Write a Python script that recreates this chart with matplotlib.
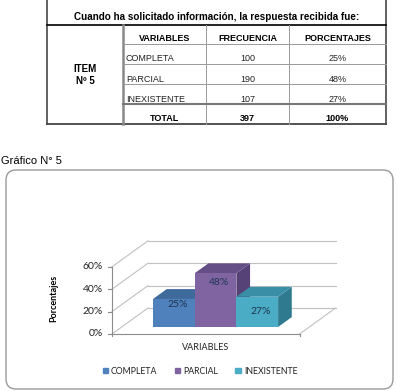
import matplotlib.pyplot as plt
from matplotlib.patches import Polygon, FancyBboxPatch, Patch

# datos de la tabla
titulo = 'Cuando ha solicitado información, la respuesta recibida fue:'
encabezados = ['VARIABLES', 'FRECUENCIA', 'PORCENTAJES']
variables = ['COMPLETA', 'PARCIAL', 'INEXISTENTE']
frecuencia = [100, 190, 107]
porcentajes = [25, 48, 27]
total_frec = 397
total_pct = 100

# datos del grafico
ticks = [0, 20, 40, 60]
colores = ['#4F81BD', '#8064A2', '#4BACC6']
tapas = ['#3F6A9C', '#654E86', '#3A8EA6']
lados = ['#34598A', '#574277', '#307A8F']
ajuste_etiqueta = [-4.5, -8, -13.5]

fig = plt.figure(figsize=(3.97, 3.91), dpi=100)

# ---- capa en pixeles: tabla y recuadro
ax0 = fig.add_axes([0, 0, 1, 1])
ax0.set_xlim(0, 397)
ax0.set_ylim(391, 0)
ax0.axis('off')

arial = 'Liberation Sans'
cols = [47, 123, 206, 289, 386]
filas = [24.5, 44, 63.5, 84, 104, 124]

ax0.plot([47, 47], [-2, 124], color='#555555', lw=1.3)
ax0.plot([386, 386], [-2, 124], color='#555555', lw=1.3)
ax0.plot([47, 386], [124, 124], color='#444444', lw=1.3)
ax0.plot([47, 386], [24.5, 24.5], color='#111111', lw=1.3)
ax0.plot([123, 123], [24.5, 124], color='#888888', lw=1.8)
for xc in cols[2:4]:
    ax0.plot([xc, xc], [24.5, 124], color='#999999', lw=0.7)
for yf in filas[1:4]:
    ax0.plot([123, 386], [yf, yf], color='#999999', lw=0.7)
ax0.plot([123, 386], [104, 104], color='#777777', lw=1.5)

ax0.text(216.5, 17.5, titulo, ha='center', va='center', fontsize=7.1, weight='bold', family=arial)
for j, h in enumerate(encabezados):
    ax0.text((cols[j + 1] + cols[j + 2]) / 2, filas[1] - 5.5, h, ha='center', va='center',
             fontsize=6.5, weight='bold', family=arial)
for i, v in enumerate(variables):
    yy = filas[i + 2] - 5
    ax0.text(126, yy, v, ha='left', va='center', fontsize=6.5, family=arial, color='#222222')
    ax0.text(247.5, yy, str(frecuencia[i]), ha='center', va='center', fontsize=6.5, family=arial, color='#222222')
    ax0.text(337.5, yy, f'{porcentajes[i]}%', ha='center', va='center', fontsize=6.5, family=arial, color='#222222')
ax0.text(164.5, filas[5] - 5.5, 'TOTAL', ha='center', va='center', fontsize=6.5, weight='bold', family=arial)
ax0.text(247.5, filas[5] - 5.5, str(total_frec), ha='center', va='center', fontsize=6.5, weight='bold', family=arial)
ax0.text(337.5, filas[5] - 5.5, f'{total_pct}%', ha='center', va='center', fontsize=6.5, weight='bold', family=arial)
ax0.text(85, 69, 'ITEM', ha='center', va='center', fontsize=7, weight='bold', family=arial)
ax0.text(85, 81, 'Nº 5', ha='center', va='center', fontsize=7, weight='bold', family=arial)

ax0.text(1, 161, 'Gráfico N° 5', ha='left', va='center', fontsize=8, family=arial)
ax0.add_patch(FancyBboxPatch((6, 170), 387, 219, boxstyle='round,pad=0,rounding_size=10',
                             fc='white', ec='#9A9A9A', lw=1))

# ---- grafico de barras en "3D"
ax = fig.add_axes([0, 0, 1, 1])
ax.patch.set_alpha(0)
ax.axis('off')
px0, py0, sx, sy = 112, 334, 41.7, 1.12
ax.set_xlim(-px0 / sx, (397 - px0) / sx)
ax.set_ylim((py0 - 391) / sy, py0 / sy)

DX, DY = 36 / sx, 26 / sy
W = 4.5
d0, d1 = 0.27, 0.65


def P(x, v, d):
    return (x + d * DX, v + d * DY)


gris = '#C0C0C0'
for t in ticks:
    a, b = P(0, t, 1), P(W, t, 1)
    ax.plot([a[0], b[0]], [a[1], b[1]], color=gris, lw=0.8, zorder=1)
    a, b = P(0, t, 0), P(0, t, 1)
    ax.plot([a[0], b[0]], [a[1], b[1]], color=gris, lw=0.8, zorder=1)
a, b = P(W, 0, 0), P(W, 0, 1)
ax.plot([a[0], b[0]], [a[1], b[1]], color=gris, lw=0.8, zorder=1)
ax.plot([0, W], [0, 0], color='#8C8C8C', lw=0.8, zorder=1)
ax.plot([0, 0], [-1.5, ticks[-1]], color='#8C8C8C', lw=0.8, zorder=1)
ax.plot([W, W], [-1.5, 0], color='#8C8C8C', lw=0.8, zorder=1)
for t in ticks:
    ax.plot([-0.09, 0], [t, t], color='#8C8C8C', lw=0.8, zorder=1)
    ax.text(-0.22, t, f'{t}%', ha='right', va='center', fontsize=7.5, family='Lato', color='#222222')

for i, v in enumerate(porcentajes):
    x0 = 0.75 + i
    x1 = x0 + 1
    z = 3 + i
    lado = [P(x1, 0, d0), P(x1, 0, d1), P(x1, v, d1), P(x1, v, d0)]
    tapa = [P(x0, v, d0), P(x1, v, d0), P(x1, v, d1), P(x0, v, d1)]
    ax.add_patch(Polygon(lado, closed=True, fc=lados[i], ec='none', zorder=z))
    ax.add_patch(Polygon(tapa, closed=True, fc=tapas[i], ec='none', zorder=z))
    ax.bar(x0 + d0 * DX, v, bottom=d0 * DY, width=1, align='edge', color=colores[i], lw=0, zorder=z)
    ax.text(x0 + 0.58 + d0 * DX, v + ajuste_etiqueta[i] + d0 * DY, f'{v}%', ha='center', va='center',
            fontsize=7.5, family='Lato', color='#1F3550', zorder=10)

ax.text(-1.4, 32, 'Porcentajes', rotation=90, ha='center', va='center', fontsize=6.5,
        weight='bold', family='Lato')
ax.text((206 - px0) / sx, (py0 - 348) / sy, 'VARIABLES', ha='center', va='center', fontsize=6.5,
        family='Lato', color='#222222')

ax.legend(handles=[Patch(color=c) for c in colores], labels=variables, ncol=3, frameon=False,
          loc='center', bbox_to_anchor=(200 / 397, 1 - 371 / 391), bbox_transform=fig.transFigure,
          prop={'family': 'Lato', 'size': 6.3}, handlelength=0.6, handleheight=0.6,
          handletextpad=0.35, columnspacing=2.0, labelcolor='#222222')

fig.savefig('out.png', dpi=100)
